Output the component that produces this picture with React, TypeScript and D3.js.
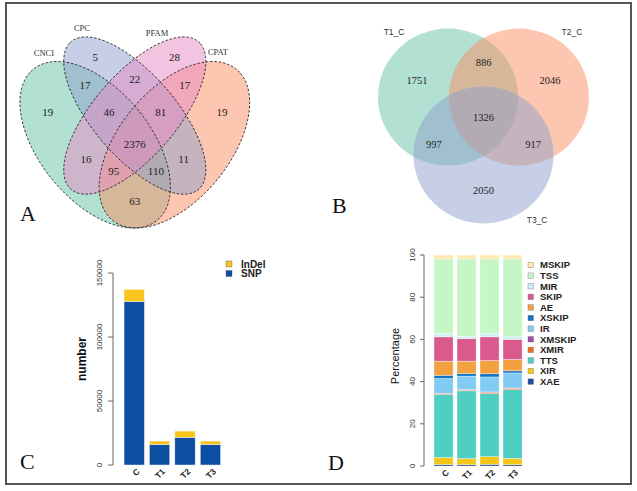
import React, { useRef, useEffect } from "react";
import * as d3 from "d3";

// A: 4-set venn (coding potential tools)
const vennASets = ["CNCI", "CPC", "PFAM", "CPAT"];
const vennAColors = ["#66c2a5", "#8da0cb", "#e78ac3", "#fc8d62"];
// region order: CNCI, CPC, PFAM, CPAT, CNCI&CPC, CPC&PFAM, PFAM&CPAT, CNCI&CPC&PFAM,
// CPC&PFAM&CPAT, all, CNCI&PFAM, CNCI&PFAM&CPAT, CNCI&CPC&CPAT, CPC&CPAT, CNCI&CPAT
const vennACounts = [19, 5, 28, 19, 17, 22, 17, 46, 81, 2376, 16, 95, 110, 11, 63];

// B: 3-set venn
const vennBSets = ["T1_C", "T2_C", "T3_C"];
const vennBColors = ["#66c2a5", "#fc8d62", "#8da0cb"];
// T1, T1&T2, T2, all, T1&T3, T2&T3, T3
const vennBCounts = [1751, 886, 2046, 1326, 997, 917, 2050];

// C: variants
const groups = ["C", "T1", "T2", "T3"];
const snp = [127800, 16100, 21600, 16100];
const indel = [9400, 2600, 4900, 2600];
const cTicks = [0, 50000, 100000, 150000];

// D: alternative splicing events (percent, bottom -> top)
const asTypes = ["XAE", "XIR", "TTS", "XMIR", "XMSKIP", "IR", "XSKIP", "AE", "SKIP", "MIR", "TSS", "MSKIP"];
const asColors = ["#1a4f9c", "#f5c518", "#4fcfc2", "#f26b21", "#a64ca6", "#82cbf2", "#1273c7", "#f2a040", "#db5a8e", "#cdeff5", "#c6f5c6", "#ffe9b0"];
const asC = [0.7, 3.3, 29.9, 0.4, 0.2, 7.0, 1.5, 6.7, 11.5, 1.6, 35.3, 1.9];
const asT1 = [0.6, 2.9, 32.1, 0.4, 0.2, 6.4, 1.2, 5.9, 10.6, 1.2, 36.6, 1.9];
const asT2 = [0.8, 3.6, 29.9, 0.6, 0.2, 7.1, 1.5, 6.3, 11.2, 1.5, 35.4, 1.9];
const asT3 = [0.6, 3.0, 32.6, 0.6, 0.2, 7.1, 1.0, 5.4, 9.5, 1.2, 36.9, 1.9];
const dTicks = [0, 20, 40, 60, 80, 100];

// layouts in unit coordinates (VennDiagram style)
const ellipsesA = [
  { x: 0.35, y: 0.47, a: 0.35, b: 0.2, r: 135 },
  { x: 0.5, y: 0.57, a: 0.35, b: 0.15, r: 135 },
  { x: 0.5, y: 0.57, a: 0.35, b: 0.15, r: 45 },
  { x: 0.65, y: 0.47, a: 0.35, b: 0.2, r: 45 },
];
const drawOrderA = [0, 3, 1, 2];
const labelPosA = [
  [0.17, 0.582], [0.35, 0.771], [0.65, 0.771], [0.83, 0.582],
  [0.311, 0.675], [0.5, 0.695], [0.689, 0.675],
  [0.402, 0.582], [0.598, 0.582], [0.5, 0.473],
  [0.315, 0.421], [0.42, 0.38], [0.58, 0.38], [0.685, 0.421], [0.5, 0.277],
];
const setPosA = [[0.156, 0.784], [0.3, 0.87], [0.584, 0.853], [0.815, 0.788]];

const circlesB = [[0.332, 0.354], [0.668, 0.354], [0.5, 0.651]];
const labelPosB = [[0.185, 0.267], [0.5, 0.174], [0.815, 0.267], [0.5, 0.456], [0.265, 0.595], [0.735, 0.595], [0.5, 0.831]];
const setPosB = [[0.076, 0.021], [0.919, 0.021], [0.754, 0.985]];

const serif = "'Liberation Serif', 'Times New Roman', serif";
const sans = "'Liberation Sans', Arial, sans-serif";

const App = () => {
  const svgRef = useRef(null);

  useEffect(() => {
    const svg = d3.select(svgRef.current);
    svg.selectAll("*").remove();

    svg.append("rect").attr("width", 637).attr("height", 491).attr("fill", "#fff");

    // ---------- A ----------
    const aX = d3.scaleLinear().domain([0, 1]).range([2.8, 266.8]);
    const aY = d3.scaleLinear().domain([0.185, 0.839]).range([228, 37]);
    const line = d3.line().curve(d3.curveLinearClosed);
    const ellipsePath = (e) => {
      const th = (e.r * Math.PI) / 180;
      const pts = d3.range(0, 360, 2).map((deg) => {
        const t = (deg * Math.PI) / 180;
        const ux = e.x + e.a * Math.cos(t) * Math.cos(th) - e.b * Math.sin(t) * Math.sin(th);
        const uy = e.y + e.a * Math.cos(t) * Math.sin(th) + e.b * Math.sin(t) * Math.cos(th);
        return [aX(ux), aY(uy)];
      });
      return line(pts);
    };
    const gA = svg.append("g");
    gA.selectAll("path.fill")
      .data(drawOrderA)
      .enter()
      .append("path")
      .attr("d", (i) => ellipsePath(ellipsesA[i]))
      .attr("fill", (i) => vennAColors[i])
      .attr("fill-opacity", 0.5);
    gA.selectAll("path.edge")
      .data(ellipsesA)
      .enter()
      .append("path")
      .attr("d", ellipsePath)
      .attr("fill", "none")
      .attr("stroke", "#222")
      .attr("stroke-width", 0.9)
      .attr("stroke-dasharray", "2.5,1.8");
    gA.selectAll("text.n")
      .data(vennACounts)
      .enter()
      .append("text")
      .attr("x", (_, i) => aX(labelPosA[i][0]))
      .attr("y", (_, i) => aY(labelPosA[i][1]))
      .attr("dy", "0.35em")
      .attr("text-anchor", "middle")
      .style("font-family", serif)
      .style("font-size", "11px")
      .attr("fill", "#222")
      .text((d) => d);
    gA.selectAll("text.s")
      .data(vennASets)
      .enter()
      .append("text")
      .attr("x", (_, i) => aX(setPosA[i][0]))
      .attr("y", (_, i) => aY(setPosA[i][1]))
      .attr("dy", "0.35em")
      .attr("text-anchor", "middle")
      .style("font-family", serif)
      .style("font-size", "8.5px")
      .attr("fill", "#333")
      .text((d) => d);

    // ---------- B ----------
    const bX = d3.scaleLinear().domain([0, 1]).range([378, 589]);
    const bY = d3.scaleLinear().domain([0, 1]).range([28, 223]);
    const gB = svg.append("g");
    gB.selectAll("ellipse")
      .data(circlesB)
      .enter()
      .append("ellipse")
      .attr("cx", (d) => bX(d[0]))
      .attr("cy", (d) => bY(d[1]))
      .attr("rx", bX(0.332) - bX(0))
      .attr("ry", bY(0.351) - bY(0))
      .attr("fill", (_, i) => vennBColors[i])
      .attr("fill-opacity", 0.5);
    gB.selectAll("text.n")
      .data(vennBCounts)
      .enter()
      .append("text")
      .attr("x", (_, i) => bX(labelPosB[i][0]))
      .attr("y", (_, i) => bY(labelPosB[i][1]))
      .attr("dy", "0.35em")
      .attr("text-anchor", "middle")
      .style("font-family", serif)
      .style("font-size", "10.5px")
      .attr("fill", "#222")
      .text((d) => d);
    gB.selectAll("text.s")
      .data(vennBSets)
      .enter()
      .append("text")
      .attr("x", (_, i) => bX(setPosB[i][0]))
      .attr("y", (_, i) => bY(setPosB[i][1]))
      .attr("dy", "0.35em")
      .attr("text-anchor", "middle")
      .style("font-family", sans)
      .style("font-size", "8.5px")
      .attr("fill", "#333")
      .text((d) => d);

    // ---------- C ----------
    const cX = d3.scaleBand().domain(groups).range([121.5, 223.1]).paddingInner(0.2).paddingOuter(0.1);
    const cY = d3.scaleLinear().domain([0, 150000]).range([465, 273]);
    const gC = svg.append("g");
    const cAxisX = 113;
    gC.append("line")
      .attr("x1", cAxisX).attr("x2", cAxisX)
      .attr("y1", cY(0)).attr("y2", cY(150000))
      .attr("stroke", "#666");
    cTicks.forEach((t) => {
      gC.append("line")
        .attr("x1", cAxisX - 5).attr("x2", cAxisX)
        .attr("y1", cY(t)).attr("y2", cY(t))
        .attr("stroke", "#666");
      gC.append("text")
        .attr("transform", `translate(${cAxisX - 11},${cY(t)}) rotate(-90)`)
        .attr("text-anchor", "middle")
        .style("font-family", sans)
        .style("font-size", "8px")
        .attr("fill", "#333")
        .text(t);
    });
    gC.selectAll("rect.snp")
      .data(snp)
      .enter()
      .append("rect")
      .attr("x", (_, i) => cX(groups[i]))
      .attr("y", (d) => cY(d))
      .attr("width", cX.bandwidth())
      .attr("height", (d) => cY(0) - cY(d))
      .attr("fill", "#0b4ea2")
      .attr("stroke", "#e8eef8")
      .attr("stroke-width", 0.5);
    gC.selectAll("rect.indel")
      .data(indel)
      .enter()
      .append("rect")
      .attr("x", (_, i) => cX(groups[i]))
      .attr("y", (d, i) => cY(snp[i] + d))
      .attr("width", cX.bandwidth())
      .attr("height", (d, i) => cY(snp[i]) - cY(snp[i] + d))
      .attr("fill", "#f7c51e")
      .attr("stroke", "#fff6d8")
      .attr("stroke-width", 0.5);
    groups.forEach((g) => {
      gC.append("text")
        .attr("transform", `translate(${cX(g) + cX.bandwidth() / 2 + 4},${470}) rotate(-45)`)
        .attr("text-anchor", "end")
        .attr("dy", "0.35em")
        .style("font-family", sans)
        .style("font-size", "8.5px")
        .style("font-weight", "bold")
        .attr("fill", "#222")
        .text(g);
    });
    gC.append("text")
      .attr("transform", "translate(86,359) rotate(-90)")
      .attr("text-anchor", "middle")
      .style("font-family", sans)
      .style("font-size", "12px")
      .style("font-weight", "bold")
      .attr("fill", "#111")
      .text("number");
    const cLegend = [
      { name: "InDel", color: "#f7c51e" },
      { name: "SNP", color: "#0b4ea2" },
    ];
    cLegend.forEach((l, i) => {
      const y = 264 + i * 9.5;
      gC.append("rect")
        .attr("x", 226).attr("y", y - 3)
        .attr("width", 6).attr("height", 6)
        .attr("fill", l.color)
        .attr("stroke", "#555").attr("stroke-width", 0.4);
      gC.append("text")
        .attr("x", 241).attr("y", y)
        .attr("dy", "0.35em")
        .style("font-family", sans)
        .style("font-size", "10px")
        .style("font-weight", "bold")
        .attr("fill", "#222")
        .text(l.name);
    });

    // ---------- D ----------
    const asRows = [asC, asT1, asT2, asT3];
    const table = groups.map((g, gi) => {
      const row = { group: g };
      asTypes.forEach((t, ti) => (row[t] = asRows[gi][ti]));
      return row;
    });
    const series = d3.stack().keys(asTypes)(table);
    const dX = d3.scaleBand().domain(groups).range([431.7, 524.4]).paddingInner(0.17).paddingOuter(0.1);
    const dY = d3.scaleLinear().domain([0, 100]).range([466, 255]);
    const gD = svg.append("g");
    const dAxisX = 424;
    gD.append("line")
      .attr("x1", dAxisX).attr("x2", dAxisX)
      .attr("y1", dY(0)).attr("y2", dY(100))
      .attr("stroke", "#666");
    dTicks.forEach((t) => {
      gD.append("line")
        .attr("x1", dAxisX - 4).attr("x2", dAxisX)
        .attr("y1", dY(t)).attr("y2", dY(t))
        .attr("stroke", "#666");
      gD.append("text")
        .attr("transform", `translate(${dAxisX - 9},${dY(t)}) rotate(-90)`)
        .attr("text-anchor", "middle")
        .style("font-family", sans)
        .style("font-size", "8px")
        .attr("fill", "#333")
        .text(t);
    });
    gD.selectAll("g.s")
      .data(series)
      .enter()
      .append("g")
      .attr("fill", (_, i) => asColors[i])
      .selectAll("rect")
      .data((s) => s)
      .enter()
      .append("rect")
      .attr("x", (d) => dX(d.data.group))
      .attr("y", (d) => dY(d[1]))
      .attr("width", dX.bandwidth())
      .attr("height", (d) => dY(d[0]) - dY(d[1]))
      .attr("stroke", "#fff")
      .attr("stroke-width", 0.5)
      .attr("stroke-opacity", 0.7);
    groups.forEach((g) => {
      gD.append("text")
        .attr("transform", `translate(${dX(g) + dX.bandwidth() / 2 + 4},${471}) rotate(-45)`)
        .attr("text-anchor", "end")
        .attr("dy", "0.35em")
        .style("font-family", sans)
        .style("font-size", "8.5px")
        .style("font-weight", "bold")
        .attr("fill", "#222")
        .text(g);
    });
    gD.append("text")
      .attr("transform", "translate(399,356) rotate(-90)")
      .attr("text-anchor", "middle")
      .style("font-family", sans)
      .style("font-size", "11px")
      .attr("fill", "#111")
      .text("Percentage");
    const legendTypes = asTypes.slice().reverse();
    legendTypes.forEach((t, i) => {
      const y = 265 + i * 10.6;
      gD.append("rect")
        .attr("x", 528).attr("y", y - 2.7)
        .attr("width", 5.5).attr("height", 5.5)
        .attr("fill", asColors[asTypes.indexOf(t)])
        .attr("stroke", "#777").attr("stroke-width", 0.4);
      gD.append("text")
        .attr("x", 540).attr("y", y)
        .attr("dy", "0.35em")
        .style("font-family", sans)
        .style("font-size", "9.5px")
        .style("font-weight", "bold")
        .attr("fill", "#222")
        .text(t);
    });

    // ---------- panel letters & frame ----------
    const letters = [
      { t: "A", x: 20, y: 221 },
      { t: "B", x: 332, y: 213 },
      { t: "C", x: 20, y: 469 },
      { t: "D", x: 328, y: 470 },
    ];
    letters.forEach((l) => {
      svg.append("text")
        .attr("x", l.x).attr("y", l.y)
        .style("font-family", serif)
        .style("font-size", "22px")
        .attr("fill", "#111")
        .text(l.t);
    });
    svg.append("rect")
      .attr("x", 6).attr("y", 3)
      .attr("width", 625).attr("height", 481)
      .attr("fill", "none")
      .attr("stroke", "#555")
      .attr("stroke-width", 2);
  }, []);

  return (
    <svg
      ref={svgRef}
      width={637}
      height={491}
      style={{ position: "absolute", left: 0, top: 0 }}
    ></svg>
  );
};

export default App;
